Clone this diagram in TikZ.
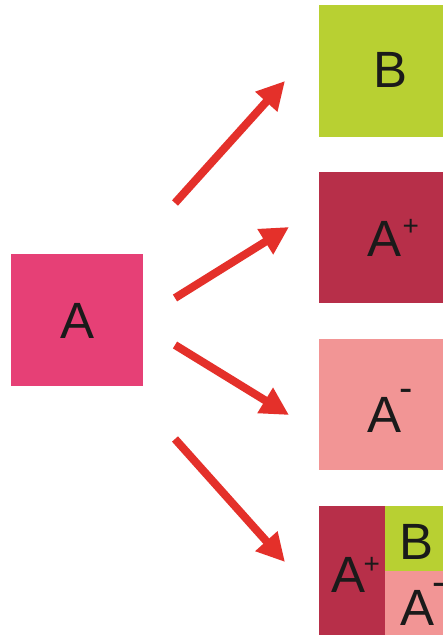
\documentclass[tikz,border=0pt]{standalone}
\usepackage{fontspec}
\setmainfont{Liberation Sans}
\usetikzlibrary{arrows.meta}
\definecolor{cA}{RGB}{230,64,118}
\definecolor{cB}{RGB}{184,208,50}
\definecolor{cAp}{RGB}{183,47,73}
\definecolor{cAm}{RGB}{242,149,149}
\definecolor{cArr}{RGB}{228,48,42}
\definecolor{cTxt}{RGB}{26,26,26}
\begin{document}
\begin{tikzpicture}[x=1pt,y=-1pt,
  box/.style={draw=none,inner sep=0,outer sep=0,anchor=north west},
  lbl/.style={inner sep=0,outer sep=0,anchor=base west,text=cTxt,font=\fontsize{51}{51}\selectfont},
  arr/.style={draw=cArr,line width=8pt,-{Triangle[length=28pt,width=28pt]}}]
\useasboundingbox (0,0) rectangle (443,635);
\fill[white] (0,0) rectangle (443,635);
\begin{scope}
\clip (0,0) rectangle (443,635);
% boxes
\node[box,fill=cA,minimum width=132pt,minimum height=132pt] (A) at (11,254) {};
\node[box,fill=cB,minimum width=124pt,minimum height=132pt] (B) at (319,5) {};
\node[box,fill=cAp,minimum width=124pt,minimum height=131pt] (Ap) at (319,172) {};
\node[box,fill=cAm,minimum width=124pt,minimum height=131pt] (Am) at (319,339) {};
\node[box,fill=cAp,minimum width=66pt,minimum height=129pt] (Cp) at (319,506) {};
\node[box,fill=cB,minimum width=58pt,minimum height=65pt] (CB) at (385,506) {};
\node[box,fill=cAm,minimum width=58pt,minimum height=64pt] (Cm) at (385,571) {};
% labels
\node[lbl,anchor=center] (tA) at (78,320.5) {A};
\node[lbl] (tB) at (373,87) {B};
\node[lbl] (tAp) at (367,256) {A\hspace{1.5pt}\raisebox{21pt}{\fontsize{28}{28}\selectfont +}};
\node[lbl] (tAm) at (367,432) {A\hspace{-2pt}\raisebox{30.4pt}{\fontsize{40}{40}\selectfont -}};
\node[lbl] (tCp) at (331,592) {A\hspace{-1.5pt}\raisebox{19pt}{\fontsize{28}{28}\selectfont +}};
\node[lbl] (tCB) at (399,559) {B};
\node[lbl] (tCm) at (400,625) {A\hspace{-2pt}\raisebox{30pt}{\fontsize{40}{40}\selectfont -}};
% arrows
\coordinate (s1) at (175,203); \coordinate (t1) at (285,81);
\coordinate (s2) at (175,298); \coordinate (t2) at (289,227);
\coordinate (s3) at (175,345); \coordinate (t3) at (289,415);
\coordinate (s4) at (175,439); \coordinate (t4) at (285,562);
\draw[arr] (s1) -- (t1);
\draw[arr] (s2) -- (t2);
\draw[arr] (s3) -- (t3);
\draw[arr] (s4) -- (t4);
\end{scope}
\end{tikzpicture}
\end{document}
